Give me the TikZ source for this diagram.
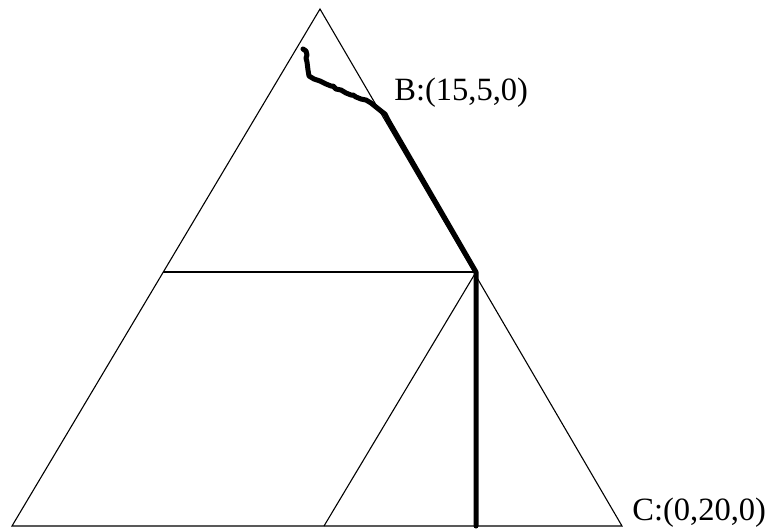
\documentclass[tikz,border=0pt]{standalone}
\usepackage{fontspec}
\setmainfont{Liberation Serif}
\usetikzlibrary{positioning}

\begin{document}
\begin{tikzpicture}[
        x=0.2mm, y=-0.2mm,
        edge/.style={draw=black, line width=0.22mm},
        route/.style={draw=black, line width=1mm, line join=round, line cap=round},
        corner/.style={font=\fontsize{18.5}{22}\selectfont, anchor=base west, inner sep=0pt}
    ]
        \useasboundingbox (0,0) rectangle (766,530);

        % outer triangle and its midpoints
        \coordinate (top) at (320,9);
        \coordinate (left) at (12,526);
        \coordinate (right) at (622,526);
        \coordinate (midL) at (163,272);
        \coordinate (midR) at (476,272);
        \coordinate (midB) at (324,526);
        \coordinate (foot) at (476,526);
        \coordinate (B) at (388,120);
        \coordinate (start) at (303,49);

        \draw[edge] (top) -- (left) -- (right) -- cycle;
        \draw[edge] (midL) -- (midR);
        \draw[edge] (midR) -- (midB);

        % path through the diagram
        \draw[route] (start) -- (306,51) -- (307,55) -- (306,58) -- (307,62) -- (308,70)
            -- (309,76) -- (314,79) -- (320,81) -- (326,84) -- (331,86) -- (333,86)
            -- (336,89) -- (341,90) -- (346,93) -- (351,95) -- (353,95) -- (356,97)
            -- (361,99) -- (366,100) -- (371,103) -- (376,107) -- (381,111) -- (385,114)
            -- (B);
        \draw[route] (B) -- (midR) -- (foot);

        \node[corner] (labB) at (394,100) {B:(15,5,0)};
        \node[corner] (labC) at (632,520) {C:(0,20,0)};
    \end{tikzpicture}
\end{document}
